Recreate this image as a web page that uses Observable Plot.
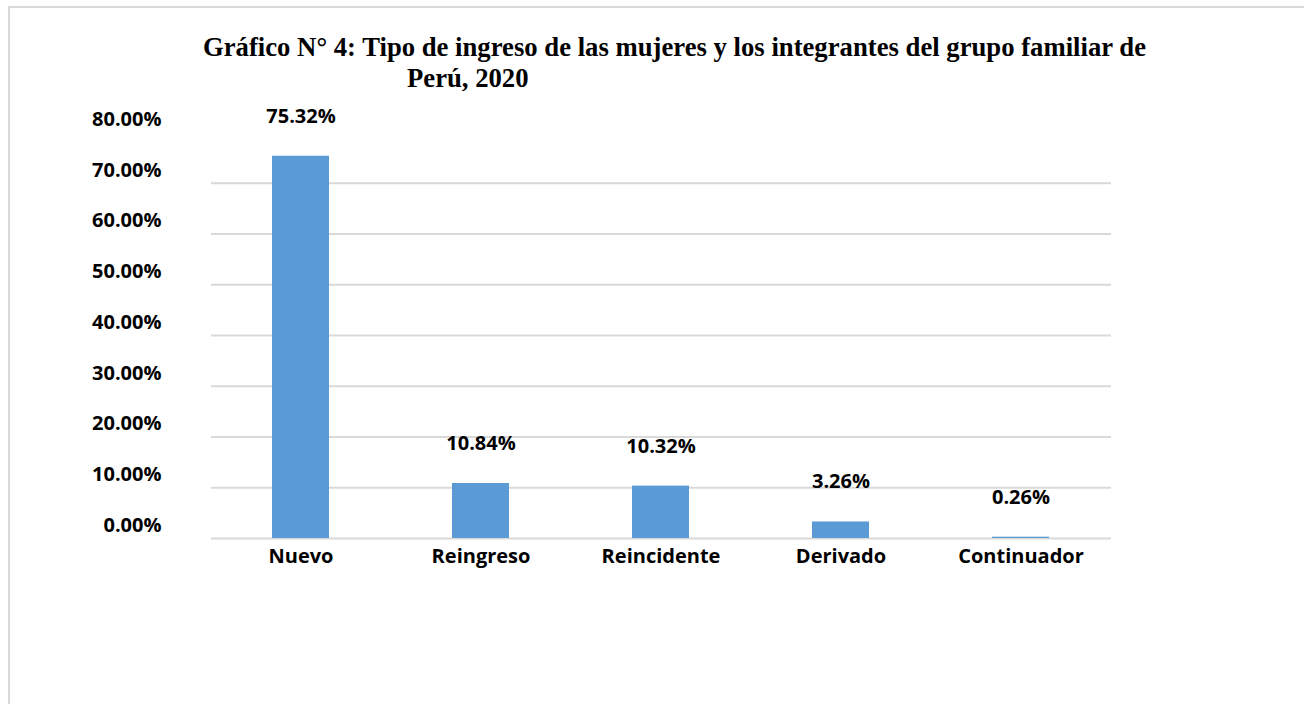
<!DOCTYPE html>
<html><head><meta charset="utf-8">
<script src="https://cdn.jsdelivr.net/npm/d3@7"></script>
<script src="https://cdn.jsdelivr.net/npm/@observablehq/plot@0.6"></script>
<style>
html,body{margin:0;padding:0;background:#fff;}
#wrap{position:relative;width:1304px;height:704px;overflow:hidden;background:#fff;}
#frame{position:absolute;left:8px;top:6px;width:1400px;height:800px;border-top:2px solid #d9d9d9;border-left:2px solid #d9d9d9;}
.t{position:absolute;font-family:"Liberation Serif","Times New Roman",serif;font-weight:bold;font-size:26.7px;line-height:30px;color:#000;white-space:nowrap;}
#chart{position:absolute;left:0;top:0;}
</style></head>
<body>
<div id="wrap">
  <div id="frame"></div>
  <div id="chart"></div>
  <div class="t" id="t1" style="left:203px;top:32px;">Gráfico N° 4: Tipo de ingreso de las mujeres y los integrantes del grupo familiar de</div>
  <div class="t" id="t2" style="left:407px;top:63px;">Perú, 2020</div>
</div>
<script>
const categories = ["Nuevo", "Reingreso", "Reincidente", "Derivado", "Continuador"];
const values = [0.7532, 0.1084, 0.1032, 0.0326, 0.0026];
const yTicks = [0, 0.1, 0.2, 0.3, 0.4, 0.5, 0.6, 0.7, 0.8];
const gridValues = [0.1, 0.2, 0.3, 0.4, 0.5, 0.6, 0.7];

const data = categories.map((c, i) => ({cat: c, value: values[i]}));
const pct = d3.format(".2%");

const chart = Plot.plot({
  width: 1304,
  height: 704,
  marginLeft: 211,
  marginRight: 193,
  marginTop: 132,
  marginBottom: 166,
  style: {fontFamily: "'Open Sans', sans-serif", fontWeight: "bold", fontSize: "20px", color: "#000", background: "transparent"},
  x: {domain: categories, paddingInner: 0.683, paddingOuter: 0.3415, axis: null},
  y: {domain: [0, 0.8], axis: null},
  marks: [
    Plot.gridY(gridValues, {stroke: "#d9d9d9", strokeOpacity: 1, strokeWidth: 2}),
    Plot.ruleY([0], {stroke: "#d9d9d9", strokeWidth: 2}),
    Plot.barY(data, {x: "cat", y: "value", fill: "#5b9bd5"}),
    Plot.axisY(yTicks, {tickSize: 0, tickPadding: 50, dy: -13, tickFormat: pct, fontSize: 20, fontWeight: "bold", fill: "#000", label: null}),
    Plot.axisX({tickSize: 0, tickPadding: 10, fontSize: 20, fontWeight: "bold", fill: "#000", label: null}),
    Plot.text(data, {x: "cat", y: "value", text: d => pct(d.value), dy: -40, fontSize: 20, fontWeight: "bold", fill: "#000"})
  ]
});
document.getElementById("chart").appendChild(chart);
</script>
</body></html>
